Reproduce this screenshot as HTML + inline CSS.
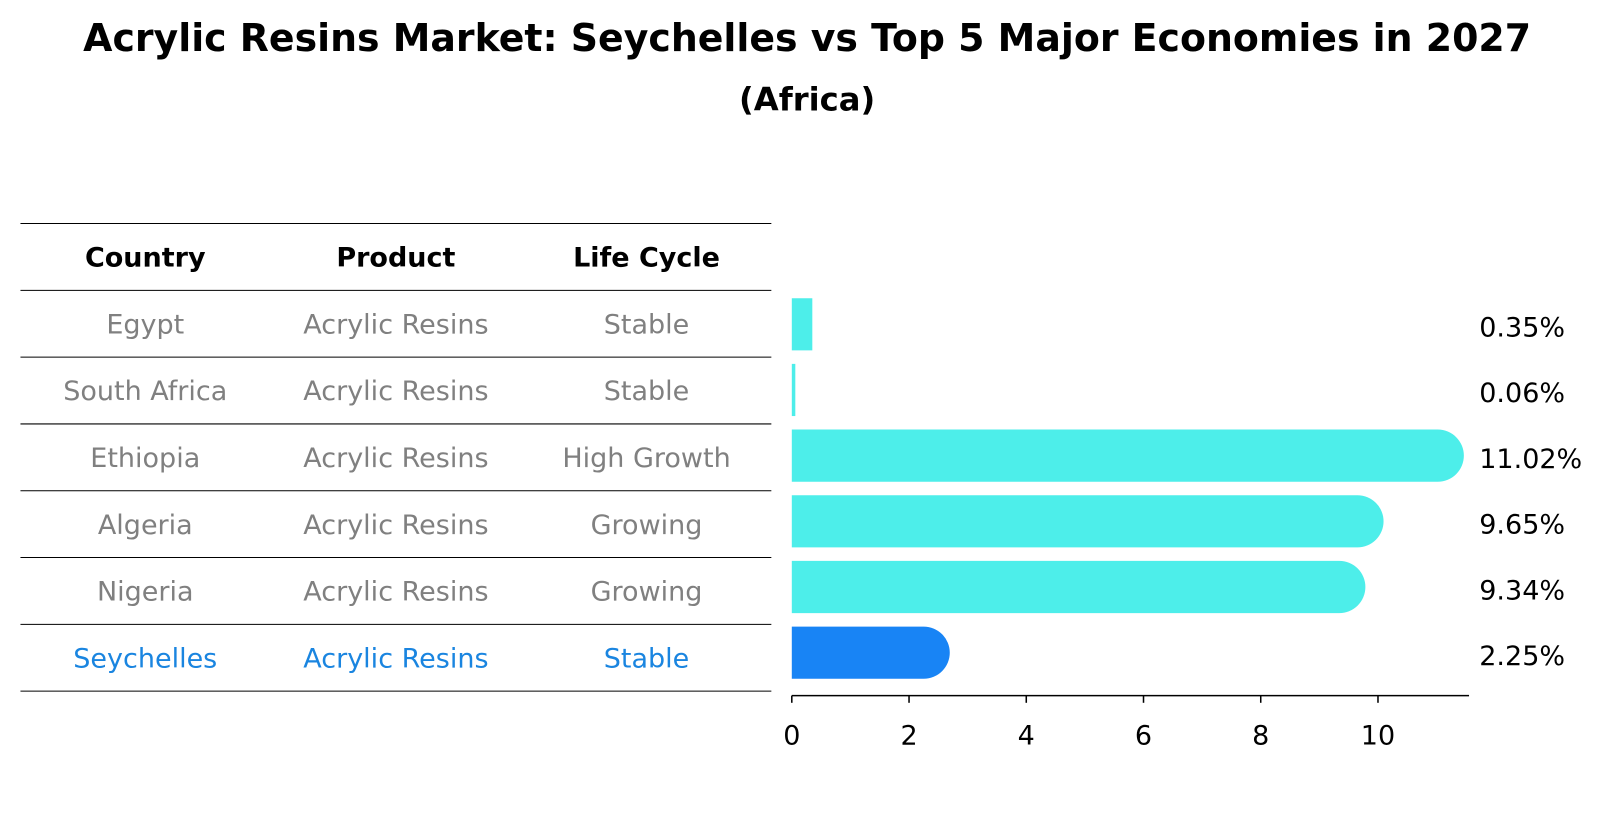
<!DOCTYPE html>
<html><head><meta charset="utf-8"><style>
body{margin:0;background:#fff;font-family:"DejaVu Sans","Liberation Sans",sans-serif;}
svg text{font-family:"DejaVu Sans","Liberation Sans",sans-serif;}
</style></head><body>
<svg id="chart" width="1604" height="823" xmlns="http://www.w3.org/2000/svg">
<g transform="scale(1.023)">
<text x="789" y="50" text-anchor="middle" font-size="37" font-weight="bold">Acrylic Resins Market: Seychelles vs Top 5 Major Economies in 2027</text>
<text x="789" y="108" text-anchor="middle" font-size="31.5" font-weight="bold">(Africa)</text>
<g id="table"></g>
<g id="bars"></g>
</g>
</svg>
<script>
const countries=["Egypt","South Africa","Ethiopia","Algeria","Nigeria","Seychelles"];
const products=["Acrylic Resins","Acrylic Resins","Acrylic Resins","Acrylic Resins","Acrylic Resins","Acrylic Resins"];
const lifeCycles=["Stable","Stable","High Growth","Growing","Growing","Stable"];
const values=[0.35,0.06,11.02,9.65,9.34,2.25];
const valueLabels=["0.35%","0.06%","11.02%","9.65%","9.34%","2.25%"];
const ticks=[0,2,4,6,8,10];
const NS="http://www.w3.org/2000/svg";
function mk(tag,attrs,parent,text){const e=document.createElementNS(NS,tag);for(const k in attrs)e.setAttribute(k,attrs[k]);if(text!==undefined)e.textContent=text;parent.appendChild(e);return e;}
const tbl=document.getElementById('table');
const rowH=65.3, tableTop=218.5, FS=26.4;
const colX=[142,387,632];
for(let i=0;i<=countries.length+1;i++){
  const l=mk('line',{x1:20,x2:754,y1:tableTop+i*rowH,y2:tableTop+i*rowH,stroke:'#000','stroke-width':1},tbl);
  
  
}
const heads=["Country","Product","Life Cycle"];
heads.forEach((h,j)=>{
  const t=mk('text',{x:colX[j],y:tableTop+rowH/2+9.5,'text-anchor':'middle','font-size':FS,'font-weight':'bold'},tbl,h);
  
  
});
countries.forEach((c,i)=>{
  const y=tableTop+(i+1.5)*rowH+9.5;
  const col=i===countries.length-1?'#1a85e0':'#808080';
  [c,products[i],lifeCycles[i]].forEach((v,j)=>{
    const t=mk('text',{x:colX[j],y:y,'text-anchor':'middle','font-size':FS,fill:col},tbl,v);
    
    
  });
});
const bg=document.getElementById('bars');
const x0=774, pxPer=57.3, axisY=680, barH=51;
const xs=v=>x0+v*pxPer;
const ys=i=>317+i*64.2;
values.forEach((v,i)=>{
  const col=i===values.length-1?'#1884f5':'#4deeea';
  const w=xs(v)-x0, y=ys(i)-barH/2;
  const r=v>1?barH/2:0;
  const d=r?`M${x0},${y}H${x0+w}A${r},${r} 0 0 1 ${x0+w},${y+barH}H${x0}Z`:`M${x0},${y}h${w}v${barH}h${-w}Z`;
  const p=mk('path',{d:d,fill:col},bg);
  
  
  const t=mk('text',{x:1446,y:ys(i)+12,'font-size':FS},bg,valueLabels[i]);
  
  
});
const ax=mk('line',{x1:x0,x2:1436,y1:axisY,y2:axisY,stroke:'#000','stroke-width':1.5},bg);


ticks.forEach(t=>{
  const l=mk('line',{x1:xs(t),x2:xs(t),y1:axisY,y2:axisY+7,stroke:'#000','stroke-width':1.5},bg);
  
  
  const tx=mk('text',{x:xs(t),y:axisY+48,'text-anchor':'middle','font-size':FS},bg,String(t));
  
  
});
</script>
</body></html>
